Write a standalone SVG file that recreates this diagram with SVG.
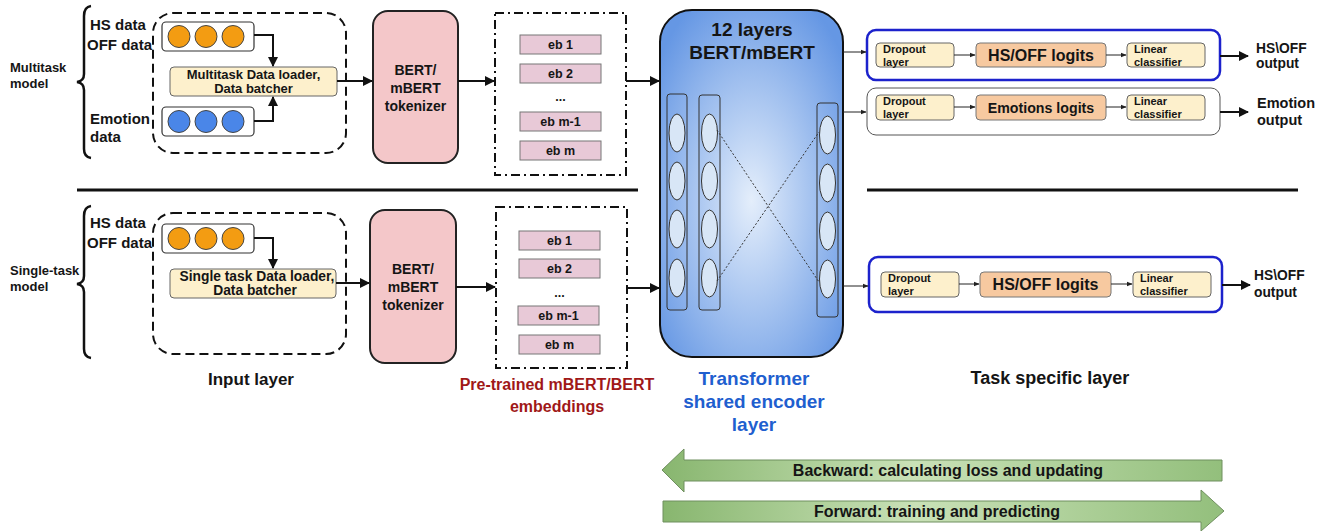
<svg xmlns="http://www.w3.org/2000/svg" width="1326" height="531" viewBox="0 0 1326 531">
<defs>
<style>
text{font-family:"Liberation Sans",Arial,sans-serif;font-weight:bold;fill:#151515}
.lbl{font-size:15px}
.side{font-size:13px}
.dash{fill:none;stroke:#111;stroke-width:2;stroke-dasharray:9 5}
.dashdot{fill:none;stroke:#111;stroke-width:2;stroke-dasharray:9 4 2 4}
.cbox{fill:#fff;stroke:#333;stroke-width:1.2}
.org{fill:#f39c12;stroke:#444;stroke-width:1}
.blu{fill:#4a86e8;stroke:#444;stroke-width:1}
.loader{fill:#fdf0cc;stroke:#666;stroke-width:1}
.tok{fill:#f4c7c9;stroke:#222;stroke-width:2}
.tokt{font-size:14px}
.eb{fill:#e8c9d7;stroke:#777;stroke-width:1}
.ebt{font-size:12.5px}
.col{fill:none;stroke:#333;stroke-width:1}
.ell{fill:#d8e6f6;stroke:#333;stroke-width:1}
.hsbox{fill:#fff;stroke:#1c22cc;stroke-width:2.5}
.embox{fill:#fff;stroke:#555;stroke-width:1}
.small{fill:#fdf0cc;stroke:#666;stroke-width:1}
.smt{font-size:11px}
.logit{fill:#f7c9a0;stroke:#777;stroke-width:1}
.conn{fill:none;stroke:#111;stroke-width:2}
.thin{fill:none;stroke:#222;stroke-width:1}
.brace{fill:none;stroke:#111;stroke-width:2.5}
.garrow{stroke:#6f8f5f;stroke-width:1}
</style>
<marker id="ah" viewBox="0 0 10 10" refX="9" refY="5" markerWidth="5" markerHeight="5" orient="auto"><path d="M0,0 L10,5 L0,10 z" fill="#111"/></marker>
<marker id="ahs" viewBox="0 0 10 10" refX="9" refY="5" markerWidth="6" markerHeight="6" orient="auto"><path d="M0,1 L10,5 L0,9 z" fill="#222"/></marker>
<radialGradient id="tg" cx="0.5" cy="0.55" r="0.65">
<stop offset="0" stop-color="#e4eefb"/>
<stop offset="1" stop-color="#6597e4"/>
</radialGradient>
<linearGradient id="gg" x1="0" y1="0" x2="1" y2="0">
<stop offset="0" stop-color="#88b66f"/>
<stop offset="0.45" stop-color="#c9e1b7"/>
<stop offset="1" stop-color="#93bf7c"/>
</linearGradient>
</defs>

<!-- dividers -->
<line x1="77" y1="190" x2="638" y2="190" stroke="#111" stroke-width="3"/>
<line x1="867" y1="190" x2="1298" y2="190" stroke="#111" stroke-width="3"/>

<!-- top input section -->
<g id="multitask-label">
<path class="brace" d="M91,6 Q84,7 84,16 L84,74 Q84,81 77,82 Q84,83 84,90 L84,149 Q84,157 91,158"/>
<text class="side" x="10" y="72">Multitask</text>
<text class="side" x="10" y="88">model</text>
</g>
<g id="top-data-labels">
<text class="lbl" x="90" y="30">HS data</text>
<text class="lbl" x="87" y="50">OFF data</text>
<text class="lbl" x="90" y="124">Emotion</text>
<text class="lbl" x="90" y="142">data</text>
</g>
<g id="top-input">
<rect class="dash" x="153" y="13" width="193" height="140" rx="20"/>
<rect class="cbox" x="162" y="22" width="92" height="29" rx="4"/>
<circle class="org" cx="179" cy="36.5" r="11"/><circle class="org" cx="206" cy="36.5" r="11"/><circle class="org" cx="233" cy="36.5" r="11"/>
<rect class="cbox" x="162" y="107" width="92" height="29" rx="4"/>
<circle class="blu" cx="179" cy="121.5" r="11"/><circle class="blu" cx="206" cy="121.5" r="11"/><circle class="blu" cx="233" cy="121.5" r="11"/>
<rect class="loader" x="170" y="67" width="167" height="29" rx="4"/>
<text x="253.5" y="79" text-anchor="middle" style="font-size:13px">Multitask Data loader,</text>
<text x="253.5" y="93" text-anchor="middle" style="font-size:13px">Data batcher</text>
</g>
<g id="top-tokenizer">
<rect class="tok" x="373" y="11" width="85" height="152" rx="15"/>
<text class="tokt" x="415.5" y="75" text-anchor="middle">BERT/</text>
<text class="tokt" x="415.5" y="93" text-anchor="middle">mBERT</text>
<text class="tokt" x="415.5" y="111" text-anchor="middle">tokenizer</text>
</g>
<g id="top-embeddings">
<rect class="dashdot" x="495" y="13" width="131" height="162"/>
<rect class="eb" x="520" y="35" width="81" height="19"/><text class="ebt" x="560.5" y="49" text-anchor="middle">eb 1</text>
<rect class="eb" x="520" y="64" width="81" height="19"/><text class="ebt" x="560.5" y="78" text-anchor="middle">eb 2</text>
<text class="ebt" x="560.5" y="101" text-anchor="middle">...</text>
<rect class="eb" x="520" y="112" width="81" height="19"/><text class="ebt" x="560.5" y="126" text-anchor="middle">eb m-1</text>
<rect class="eb" x="520" y="141" width="81" height="19"/><text class="ebt" x="560.5" y="155" text-anchor="middle">eb m</text>
</g>

<!-- bottom input section -->
<g id="single-label">
<path class="brace" d="M91,206 Q84,207 84,216 L84,276 Q84,283 77,284 Q84,285 84,292 L84,349 Q84,357 91,358"/>
<text class="side" x="10" y="275">Single-task</text>
<text class="side" x="10" y="291">model</text>
</g>
<g id="bottom-data-labels">
<text class="lbl" x="90" y="228">HS data</text>
<text class="lbl" x="87" y="248">OFF data</text>
</g>
<g id="bottom-input">
<rect class="dash" x="153" y="213" width="193" height="141" rx="20"/>
<rect class="cbox" x="162" y="224" width="92" height="29" rx="4"/>
<circle class="org" cx="179" cy="238.5" r="11"/><circle class="org" cx="206" cy="238.5" r="11"/><circle class="org" cx="233" cy="238.5" r="11"/>
<rect class="loader" x="170" y="269" width="166" height="29" rx="4"/>
<text x="257" y="281" text-anchor="middle" style="font-size:13.8px">Single task Data loader,</text>
<text x="255" y="295" text-anchor="middle" style="font-size:13.8px">Data batcher</text>
</g>
<g id="bottom-tokenizer">
<rect class="tok" x="370" y="210" width="86" height="153" rx="15"/>
<text class="tokt" x="413" y="274" text-anchor="middle">BERT/</text>
<text class="tokt" x="413" y="292" text-anchor="middle">mBERT</text>
<text class="tokt" x="413" y="310" text-anchor="middle">tokenizer</text>
</g>
<g id="bottom-embeddings">
<rect class="dashdot" x="496" y="207" width="131" height="161"/>
<rect class="eb" x="519" y="231" width="81" height="19"/><text class="ebt" x="559.5" y="245" text-anchor="middle">eb 1</text>
<rect class="eb" x="519" y="259" width="81" height="19"/><text class="ebt" x="559.5" y="273" text-anchor="middle">eb 2</text>
<text class="ebt" x="559.5" y="297" text-anchor="middle">...</text>
<rect class="eb" x="518" y="306" width="81" height="19"/><text class="ebt" x="558.5" y="320" text-anchor="middle">eb m-1</text>
<rect class="eb" x="519" y="335" width="81" height="19"/><text class="ebt" x="559.5" y="349" text-anchor="middle">eb m</text>
</g>

<!-- transformer -->
<g id="transformer">
<rect x="660" y="10" width="183" height="347" rx="32" fill="url(#tg)" stroke="#111" stroke-width="2"/>
<text x="752" y="36" text-anchor="middle" style="font-size:19px">12 layers</text>
<text x="752" y="59" text-anchor="middle" style="font-size:19px">BERT/mBERT</text>
<rect class="col" x="667" y="94" width="20" height="216" rx="3"/>
<rect class="col" x="699" y="95" width="21" height="215" rx="3"/>
<rect class="col" x="817" y="103" width="21" height="214" rx="3"/>
<ellipse class="ell" cx="677" cy="133" rx="8" ry="19"/><ellipse class="ell" cx="677" cy="181" rx="8" ry="19"/><ellipse class="ell" cx="677" cy="229" rx="8" ry="19"/><ellipse class="ell" cx="677" cy="278" rx="8" ry="19"/>
<ellipse class="ell" cx="709.5" cy="133" rx="8" ry="19"/><ellipse class="ell" cx="709.5" cy="181" rx="8" ry="19"/><ellipse class="ell" cx="709.5" cy="229" rx="8" ry="19"/><ellipse class="ell" cx="709.5" cy="278" rx="8" ry="19"/>
<ellipse class="ell" cx="827.5" cy="135" rx="8" ry="19"/><ellipse class="ell" cx="827.5" cy="183" rx="8" ry="19"/><ellipse class="ell" cx="827.5" cy="231" rx="8" ry="19"/><ellipse class="ell" cx="827.5" cy="279" rx="8" ry="19"/>
<line x1="717" y1="130" x2="819" y2="282" stroke="#333" stroke-width="1" stroke-dasharray="2 2"/>
<line x1="717" y1="281" x2="819" y2="132" stroke="#333" stroke-width="1" stroke-dasharray="2 2"/>
</g>

<!-- task heads -->
<g id="head-hs-top">
<rect class="hsbox" x="867" y="30" width="353" height="50" rx="9"/>
<rect class="small" x="876" y="43" width="78" height="24" rx="4"/>
<text class="smt" x="883" y="53">Dropout</text><text class="smt" x="883" y="66">layer</text>
<rect class="logit" x="976" y="43" width="130" height="24" rx="4"/>
<text x="1041" y="61" text-anchor="middle" style="font-size:16px">HS/OFF logits</text>
<rect class="small" x="1127" y="43" width="78" height="24" rx="4"/>
<text class="smt" x="1134" y="53">Linear</text><text class="smt" x="1134" y="66">classifier</text>
</g>
<g id="head-emotion">
<rect class="embox" x="867" y="88" width="353" height="47" rx="9"/>
<rect class="small" x="876" y="95" width="78" height="25" rx="4"/>
<text class="smt" x="883" y="105">Dropout</text><text class="smt" x="883" y="118">layer</text>
<rect class="logit" x="976" y="95" width="130" height="25" rx="4"/>
<text x="1041" y="113" text-anchor="middle" style="font-size:14.2px">Emotions logits</text>
<rect class="small" x="1127" y="95" width="78" height="25" rx="4"/>
<text class="smt" x="1134" y="105">Linear</text><text class="smt" x="1134" y="118">classifier</text>
</g>
<g id="head-hs-bottom">
<rect class="hsbox" x="869" y="257" width="353" height="55" rx="9"/>
<rect class="small" x="881" y="272" width="78" height="25" rx="4"/>
<text class="smt" x="888" y="282">Dropout</text><text class="smt" x="888" y="295">layer</text>
<rect class="logit" x="980" y="272" width="131" height="25" rx="4"/>
<text x="1045.5" y="290" text-anchor="middle" style="font-size:16px">HS/OFF logits</text>
<rect class="small" x="1133" y="272" width="78" height="25" rx="4"/>
<text class="smt" x="1140" y="282">Linear</text><text class="smt" x="1140" y="295">classifier</text>
</g>
<g id="outputs">
<text x="1256" y="53" style="font-size:13.8px">HS\OFF</text>
<text x="1256" y="68" style="font-size:13.8px">output</text>
<text class="lbl" x="1257" y="108" style="font-size:14.5px">Emotion</text>
<text class="lbl" x="1257" y="125" style="font-size:14.5px">output</text>
<text x="1254" y="280" style="font-size:13.8px">HS\OFF</text>
<text x="1254" y="297" style="font-size:13.8px">output</text>
</g>

<!-- captions -->
<g id="captions">
<text x="251" y="385" text-anchor="middle" style="font-size:17px">Input layer</text>
<text x="557" y="390" text-anchor="middle" style="font-size:16px;fill:#a01818">Pre-trained mBERT/BERT</text>
<text x="557" y="412" text-anchor="middle" style="font-size:16px;fill:#a01818">embeddings</text>
<text x="754" y="385" text-anchor="middle" style="font-size:19px;fill:#1f5fcf">Transformer</text>
<text x="754" y="408" text-anchor="middle" style="font-size:19px;fill:#1f5fcf">shared encoder</text>
<text x="754" y="431" text-anchor="middle" style="font-size:19px;fill:#1f5fcf">layer</text>
<text x="1050" y="384" text-anchor="middle" style="font-size:18px">Task specific layer</text>
</g>

<!-- process arrows -->
<g id="backward">
<path class="garrow" fill="url(#gg)" d="M662,470 L684,449 L684,460 L1222,460 L1222,481 L684,481 L684,492 Z"/>
<text x="948" y="476" text-anchor="middle" style="font-size:16px">Backward: calculating loss and updating</text>
</g>
<g id="forward">
<path class="garrow" fill="url(#gg)" d="M663,501 L1201,501 L1201,490 L1224,511 L1201,531 L1201,522 L663,522 Z"/>
<text x="937" y="517" text-anchor="middle" style="font-size:16px">Forward: training and predicting</text>
</g>

<!-- connectors -->
<g id="connectors">
<path class="conn" d="M254,35 L273,35 L273,66" marker-end="url(#ah)"/>
<path class="conn" d="M254,121 L273,121 L273,97" marker-end="url(#ah)"/>
<path class="conn" d="M337,81 L372,81" marker-end="url(#ah)"/>
<path class="conn" d="M458,81 L494,81" marker-end="url(#ah)"/>
<path class="conn" d="M626,81 L659,81" marker-end="url(#ah)"/>
<path class="conn" d="M254,238 L273,238 L273,268" marker-end="url(#ah)"/>
<path class="conn" d="M336,283 L369,283" marker-end="url(#ah)"/>
<path class="conn" d="M456,287 L495,287" marker-end="url(#ah)"/>
<path class="conn" d="M627,288 L659,288" marker-end="url(#ah)"/>
<path class="thin" d="M843,52 L866,52" marker-end="url(#ahs)"/>
<path class="thin" d="M843,112 L866,112" marker-end="url(#ahs)"/>
<path class="thin" d="M843,286 L868,286" marker-end="url(#ahs)"/>
<path class="thin" d="M954,55 L975,55" marker-end="url(#ahs)"/>
<path class="thin" d="M1106,55 L1126,55" marker-end="url(#ahs)"/>
<path class="thin" d="M954,107 L975,107" marker-end="url(#ahs)"/>
<path class="thin" d="M1106,107 L1126,107" marker-end="url(#ahs)"/>
<path class="thin" d="M959,284 L979,284" marker-end="url(#ahs)"/>
<path class="thin" d="M1111,284 L1132,284" marker-end="url(#ahs)"/>
<path class="conn" d="M1220,56 L1248,56" marker-end="url(#ah)"/>
<path class="conn" d="M1220,112 L1248,112" marker-end="url(#ah)"/>
<path class="conn" d="M1222,285 L1250,285" marker-end="url(#ah)"/>
</g>
</svg>
